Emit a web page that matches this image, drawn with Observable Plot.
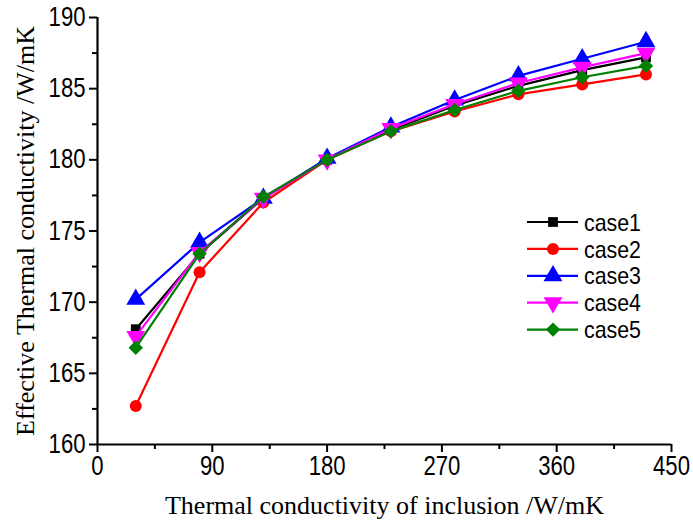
<!DOCTYPE html>
<html><head><meta charset="utf-8">
<script src="https://cdn.jsdelivr.net/npm/d3@7"></script>
<script src="https://cdn.jsdelivr.net/npm/@observablehq/plot@0.6"></script>
<style>body{margin:0;background:#fff;}</style>
</head><body><div id="chart"></div>
<script>
const xValues = [30, 80, 130, 180, 230, 280, 330, 380, 430];
const case1 = [168.1, 173.4, 177.3, 180.0, 182.1, 183.8, 185.2, 186.3, 187.2];
const case2 = [162.7, 172.1, 177.0, 180.0, 182.0, 183.4, 184.6, 185.3, 186.0];
const case3 = [170.2, 174.2, 177.3, 180.1, 182.3, 184.2, 185.9, 187.1, 188.3];
const case4 = [167.6, 173.5, 177.3, 180.0, 182.2, 183.9, 185.4, 186.5, 187.5];
const case5 = [166.8, 173.4, 177.4, 180.0, 182.0, 183.5, 184.85, 185.8, 186.6];
const seriesNames = ["case1", "case2", "case3", "case4", "case5"];
const seriesColors = ["#000000", "#ff0000", "#0000ff", "#ff00ff", "#008000"];
const xTicks = [0, 90, 180, 270, 360, 450];
const xMinor = [45, 135, 225, 315, 405];
const yTicks = [160, 165, 170, 175, 180, 185, 190];
const yMinor = [162.5, 167.5, 172.5, 177.5, 182.5, 187.5];

const triDown = {
  draw(context, size) {
    const y = -Math.sqrt(size / (Math.sqrt(3) * 3));
    context.moveTo(0, -2 * y);
    context.lineTo(-Math.sqrt(3) * y, y);
    context.lineTo(Math.sqrt(3) * y, y);
    context.closePath();
  }
};
const symbols = ["square", "circle", "triangle", triDown, "diamond2"];
const symbolTypes = [d3.symbolSquare, d3.symbolCircle, d3.symbolTriangle, triDown, d3.symbolDiamond2];
const radii = [5.5, 6, 7, 7, 6.5];

const allSeries = [case1, case2, case3, case4, case5];
const data = [];
allSeries.forEach((vals, i) => vals.forEach((v, j) => data.push({x: xValues[j], y: v, s: seriesNames[i], i})));

const tickFont = "'Liberation Sans', Arial, sans-serif";
const titleFont = "'Liberation Serif', 'Times New Roman', serif";

const marks = [
  Plot.axisX({ticks: xTicks, tickSize: 8, tickPadding: 3, fontSize: 27, fontFamily: tickFont, label: null, strokeWidth: 2, tickFormat: d => String(d), className: "tickx"}),
  Plot.axisX({ticks: xMinor, tickSize: 5, text: null, label: null, strokeWidth: 2}),
  Plot.axisY({ticks: yTicks, tickSize: 8, tickPadding: 4, fontSize: 27, fontFamily: tickFont, label: null, strokeWidth: 2, tickFormat: d => String(d), className: "ticky"}),
  Plot.axisY({ticks: yMinor, tickSize: 5, text: null, label: null, strokeWidth: 2}),
  Plot.ruleY([160], {stroke: "black", strokeWidth: 2.2}),
  Plot.ruleX([0], {stroke: "black", strokeWidth: 2.2}),
  Plot.text(["Effective Thermal conductivity /W/mK"], {frameAnchor: "left", rotate: -90, dx: -72, textAnchor: "middle", lineAnchor: "middle", fontSize: 26, fontFamily: titleFont, fill: "black"}),
  Plot.text(["Thermal conductivity of inclusion /W/mK"], {frameAnchor: "bottom", dy: 61, textAnchor: "middle", lineAnchor: "middle", fontSize: 26, fontFamily: titleFont, fill: "black"})
];
seriesNames.forEach((name, i) => {
  const d = data.filter(r => r.i === i);
  marks.push(Plot.line(d, {x: "x", y: "y", stroke: seriesColors[i], strokeWidth: 2.2}));
  marks.push(Plot.dot(d, {x: "x", y: "y", fill: seriesColors[i], stroke: "none", symbol: symbols[i], r: radii[i]}));
});

const chart = Plot.plot({
  width: 693, height: 526,
  marginLeft: 97, marginRight: 22, marginTop: 17, marginBottom: 82,
  x: {domain: [0, 450]},
  y: {domain: [160, 190]},
  style: {background: "white", color: "black", overflow: "visible"},
  marks
});
document.getElementById("chart").appendChild(chart);

const svg = d3.select(chart);
// narrow the numeric tick labels like the reference's condensed sans
svg.selectAll(".tickx text, .ticky text").each(function() {
  const t = d3.select(this);
  const n = t.text().length;
  t.attr("textLength", n * 12.3).attr("lengthAdjust", "spacingAndGlyphs");
});

// legend inside the plot area
const lg = svg.append("g").attr("transform", "translate(527,222)");
seriesNames.forEach((name, i) => {
  const row = lg.append("g").attr("transform", `translate(0,${i * 26.9})`);
  row.append("line").attr("x1", 0).attr("x2", 51).attr("y1", 0).attr("y2", 0)
    .attr("stroke", seriesColors[i]).attr("stroke-width", 2.2);
  row.append("path").attr("transform", "translate(26,0)")
    .attr("d", d3.symbol(symbolTypes[i], radii[i] * radii[i] * Math.PI)())
    .attr("fill", seriesColors[i]);
  row.append("text").attr("x", 57).attr("y", 0).attr("dy", "0.36em")
    .attr("text-anchor", "start")
    .attr("font-family", "'Liberation Sans', Arial, sans-serif").attr("font-size", 24)
    .attr("textLength", 57).attr("lengthAdjust", "spacingAndGlyphs")
    .attr("fill", "black").text(name);
});
</script>
</body></html>
